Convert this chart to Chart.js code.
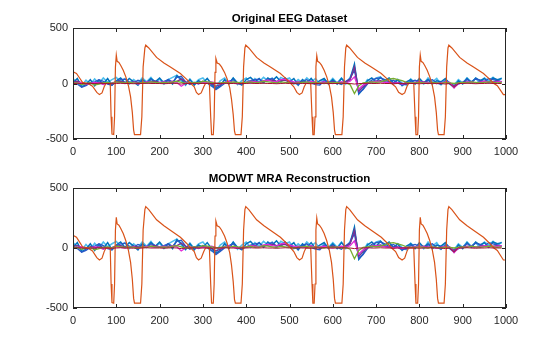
<!DOCTYPE html>
<html>
<head>
<meta charset="utf-8">
<script src="https://cdn.jsdelivr.net/npm/chart.js@4.4.0/dist/chart.umd.min.js"></script>
<style>
  body { margin: 0; background: #fff; }
  #wrap { position: relative; width: 560px; height: 337px; }
  canvas { position: absolute; left: 0; }
</style>
</head>
<body>
<div id="wrap">
  <canvas id="eegChart" width="560" height="168" style="top:0"></canvas>
  <canvas id="mraChart" width="560" height="177" style="top:160px"></canvas>
</div>
<script>
// sample index for the small channels (every 10th sample)
const sampleIdx = Array.from({ length: 100 }, (_, i) => i * 10);

// channel with the big periodic swings
const orangeX = [0, 8, 16, 22, 35, 45, 55, 61, 67, 72, 76, 86, 88, 90, 94, 96, 98, 100, 102, 106, 110, 116, 122, 128, 133, 137, 140, 142, 156, 159, 162, 166, 168, 175, 193, 210, 224, 248, 262, 272,
  280, 285, 290, 296, 302, 306, 315, 318, 320, 324, 326, 328, 330, 333, 338, 343, 350, 356, 362, 366, 370, 373, 375, 388, 391, 394, 397, 399, 406, 424, 441, 455, 479, 493, 503,
  510, 517, 523, 529, 534, 538, 549, 552, 554, 557, 559, 561, 563, 565, 569, 574, 580, 586, 592, 597, 601, 604, 606, 621, 624, 627, 630, 632, 639, 657, 674, 688, 712, 726, 736,
  745, 752, 760, 766, 771, 775, 787, 790, 792, 796, 798, 800, 802, 804, 808, 812, 818, 824, 830, 835, 839, 842, 844, 857, 860, 863, 866, 868, 875, 893, 910, 924, 948, 962, 972, 980, 987, 994, 999];
const orangeY = [105, 90, 45, 10, 0, -25, -80, -100, -85, -30, 0, 0, -300, -455, -460, -300, 150, 255, 200, 190, 165, 120, 60, -20, -120, -260, -420, -460, -460, -300, 150, 320, 345, 320, 235, 185, 150, 90, 40, 0,
  -30, -80, -100, -85, -30, 0, 0, -300, -460, -460, -300, 100, 225, 185, 175, 150, 100, 40, -40, -140, -280, -430, -460, -460, -300, 150, 320, 345, 320, 235, 185, 150, 90, 40, 0,
  -30, -80, -100, -85, -30, 0, 0, -300, -460, -460, -300, 150, 250, 200, 190, 165, 120, 60, -20, -120, -260, -420, -460, -460, -300, 150, 320, 345, 320, 235, 185, 150, 90, 40, 0,
  -30, -80, -100, -85, -30, 0, 0, -300, -460, -460, -300, 150, 255, 200, 190, 165, 120, 60, -20, -120, -260, -420, -460, -460, -300, 150, 320, 345, 320, 235, 185, 150, 90, 40, 0, -20, -60, -100, -100];

// the other channels, one value per 10 samples
const chBlue = [5, 45, -30, -10, 35, -20, 30, -5, 45, -15, 25, 50, 5, 45, 15, -15, 35, 5, 45, 15,
  50, 5, 35, -5, 70, 40, -10, 35, -15, 25, 5, 45, -5, -45, -20, 35, -5, 50, 5, -15,
  35, 55, 15, 45, 5, 50, 25, 60, 15, 50, 15, 45, -15, 35, 5, 45, -5, 25, 45, -5,
  35, -5, 45, 5, 40, 175, -95, -50, 25, 50, 15, 55, 25, 50, 5, 35, -20, 15, 35, -5,
  45, 5, 35, -5, 25, 15, 45, -5, -35, 25, -5, 45, 5, 50, 25, 45, 5, 50, 35, 45];
const chCyan = [45, 5, -20, 30, -10, 40, 0, 50, 10, 35, 55, 15, 45, -5, 35, 5, 50, 15, 55, 5,
  40, -5, 35, 55, 75, 25, -15, 40, -5, 35, 50, 5, -25, -35, 25, 50, 5, 45, -10, 25,
  50, 5, 45, 15, 55, 25, 50, 5, 55, 35, 50, -5, 35, 5, 50, 15, 45, -5, 35, 5,
  45, 5, 50, -5, 55, 140, -70, -25, 35, 5, 50, 60, 15, 45, -5, 35, 5, -15, 40, 5,
  35, -5, 50, 15, 45, -10, 35, 5, -15, 35, 5, 50, 15, 45, 5, 50, 25, 55, 15, 50];
const chGreen = [5, 5, -10, 0, 5, -15, -5, 5, 10, 0, 15, 10, 5, 10, 5, 0, 10, 5, 15, 10,
  5, 10, 5, 15, 20, 10, 0, 5, 10, 5, 20, 15, 10, 0, 5, 10, 5, 15, 10, 5,
  10, 15, 5, 10, 20, 15, 10, 5, 15, 10, 5, 0, 5, 10, 15, 5, 10, 5, 0, 10,
  5, 10, 0, 5, -10, -90, -20, 5, 10, 15, 10, 15, 25, 40, 45, 35, 25, 10, 5, 5,
  10, 5, 0, 10, 5, 0, 10, 5, 0, 5, 10, 5, 15, 10, 5, 10, 15, 10, 5, 10];
const chMagenta = [0, 5, 10, -5, 0, 10, 5, -10, 5, 0, 10, 5, 0, 5, 10, -5, 5, 15, 10, 5,
  10, 15, 5, 20, 10, -25, 0, 10, 5, 0, 5, 10, 15, 5, 0, 10, 20, 5, 0, 5,
  10, 20, 15, 10, 25, 30, 20, 15, 35, 40, 25, 15, 10, 5, 10, 20, 5, 10, 15, 5,
  0, 10, 15, 5, 20, 60, -50, -15, 5, 15, 20, 15, 10, 5, 0, 5, -5, 10, 5, 10,
  15, 10, 5, 10, 0, 5, 15, 10, -40, 0, 5, 10, 15, 5, 10, 20, 15, 10, 15, 20];
const chPurple = [15, 20, 5, -5, 10, 0, 10, 5, 0, 5, 15, 20, 10, 5, 15, 10, 5, 10, 15, 20,
  10, 5, 15, 10, 20, 40, 15, 0, 5, 10, 10, 5, 0, -25, -10, 5, 15, 10, 0, 5,
  5, 15, 20, 10, 15, 25, 30, 20, 25, 30, 10, 5, 15, 10, 5, 15, 10, 0, 5, 10,
  15, 5, 10, 15, 35, 150, -70, -30, 0, 15, 20, 25, 15, 10, 5, 10, 0, -5, 5, 10,
  10, 15, 10, 5, 0, 10, 5, 0, -20, 5, 10, 15, 10, 5, 15, 20, 10, 15, 20, 15];
const chNavy = [15, -5, -35, -20, 5, 15, 35, 20, -5, -15, 20, 35, 40, 15, 5, 30, 15, 5, 35, 20,
  5, 20, 35, 15, 55, 65, 15, -10, 10, -5, 20, 5, -20, -55, -30, 0, 20, 35, 5, -10,
  10, 25, 35, 40, 15, 30, 45, 15, 30, 40, 20, 5, -10, 20, 35, 5, -10, -15, 25, 5,
  20, 5, -10, 20, 45, 120, -85, -55, -5, 30, 45, 50, 35, 15, 30, 5, -15, -5, 20, 30,
  15, 5, 25, 35, 5, -10, 25, 5, -30, -5, 10, 35, 15, 40, 30, 15, 45, 35, 25, 15];
const chDarkRed = [0, 2, 0, -2, 0, 0, 2, 0, 0, -2, 0, 2, 0, 0, -2, 0, 0, 2, 0, 0,
  0, -2, 0, 2, 0, -5, 0, 0, 2, 0, 0, 0, -2, 0, 0, 2, 0, 0, -2, 0,
  0, 2, 0, 0, 2, 0, 0, -2, 0, 2, 0, 0, 2, 0, 0, -2, 0, 0, 2, 0,
  0, 0, 2, 0, 0, -5, 0, 0, 2, 0, 0, 2, 0, 0, -2, 0, 0, 2, 0, 0,
  -2, 0, 0, 2, 0, 0, -5, 0, -35, 0, 0, 2, 0, -2, 0, 0, 2, 0, 0, 0];

const xTicks = [0, 100, 200, 300, 400, 500, 600, 700, 800, 900, 1000];
const yTicks = [-500, 0, 500];

const axisColor = "#262626";

function pts(xs, ys) {
  return ys.map((y, i) => ({ x: xs[i], y: y }));
}

function lineSet(data, color, width) {
  return {
    data: data,
    borderColor: color,
    borderWidth: width,
    pointRadius: 0,
    tension: 0,
    fill: false
  };
}

// box around the axes with inward tick marks on every side, plus the title
const matlabBox = {
  id: "matlabBox",
  afterDatasetsDraw(chart, args, opts) {
    const { ctx, chartArea: a, scales } = chart;
    ctx.save();
    ctx.strokeStyle = axisColor;
    ctx.lineWidth = 1;
    ctx.strokeRect(a.left + 0.5, a.top + 0.5, a.right - a.left - 1, a.bottom - a.top - 1);
    ctx.beginPath();
    xTicks.forEach(v => {
      const px = Math.round(scales.x.getPixelForValue(v)) + 0.5;
      ctx.moveTo(px, a.bottom); ctx.lineTo(px, a.bottom - 4);
      ctx.moveTo(px, a.top); ctx.lineTo(px, a.top + 4);
    });
    yTicks.forEach(v => {
      const py = Math.round(scales.y.getPixelForValue(v)) + 0.5;
      ctx.moveTo(a.left, py); ctx.lineTo(a.left + 4, py);
      ctx.moveTo(a.right, py); ctx.lineTo(a.right - 4, py);
    });
    ctx.stroke();
    ctx.fillStyle = "#000";
    ctx.font = "bold 11.5px 'Liberation Sans', Arial, sans-serif";
    ctx.textAlign = "center";
    ctx.textBaseline = "middle";
    ctx.fillText(opts.text, (a.left + a.right) / 2, a.top - 9);
    ctx.restore();
  }
};

function makeChart(id, title) {
  const tickFont = { family: "'Liberation Sans', Arial, sans-serif", size: 11 };
  return new Chart(document.getElementById(id), {
    type: "line",
    data: {
      datasets: [
        lineSet(pts(sampleIdx, chDarkRed), "#A2142F", 1),
        lineSet(pts(orangeX, orangeY), "#D95319", 1.2),
        lineSet(pts(sampleIdx, chGreen), "#77AC30", 1.3),
        lineSet(pts(sampleIdx, chMagenta), "#E22BD8", 1.3),
        lineSet(pts(sampleIdx, chPurple), "#7E2F8E", 1.3),
        lineSet(pts(sampleIdx, chNavy), "#2A58C8", 1.3),
        lineSet(pts(sampleIdx, chBlue), "#0072BD", 1.5),
        lineSet(pts(sampleIdx, chCyan), "#4DBEEE", 1.6)
      ]
    },
    plugins: [matlabBox],
    options: {
      responsive: false,
      animation: false,
      events: [],
      layout: { padding: { left: 0, right: 54, top: 28, bottom: 0 } },
      plugins: {
        legend: { display: false },
        tooltip: { enabled: false },
        matlabBox: { text: title }
      },
      scales: {
        x: {
          type: "linear",
          min: 0,
          max: 1000,
          grid: { display: false, drawTicks: false },
          border: { display: false },
          afterBuildTicks: s => { s.ticks = xTicks.map(v => ({ value: v })); },
          afterFit: s => { s.height = 29; },
          ticks: { color: axisColor, font: tickFont, padding: 6, maxRotation: 0, callback: v => String(v) }
        },
        y: {
          min: -500,
          max: 500,
          grid: { display: false, drawTicks: false },
          border: { display: false },
          afterBuildTicks: s => { s.ticks = yTicks.map(v => ({ value: v })); },
          afterFit: s => { s.width = 73; },
          ticks: { color: axisColor, font: tickFont, padding: 5, callback: v => String(v) }
        }
      }
    }
  });
}

makeChart("eegChart", "Original EEG Dataset");
makeChart("mraChart", "MODWT MRA Reconstruction");
</script>
</body>
</html>
